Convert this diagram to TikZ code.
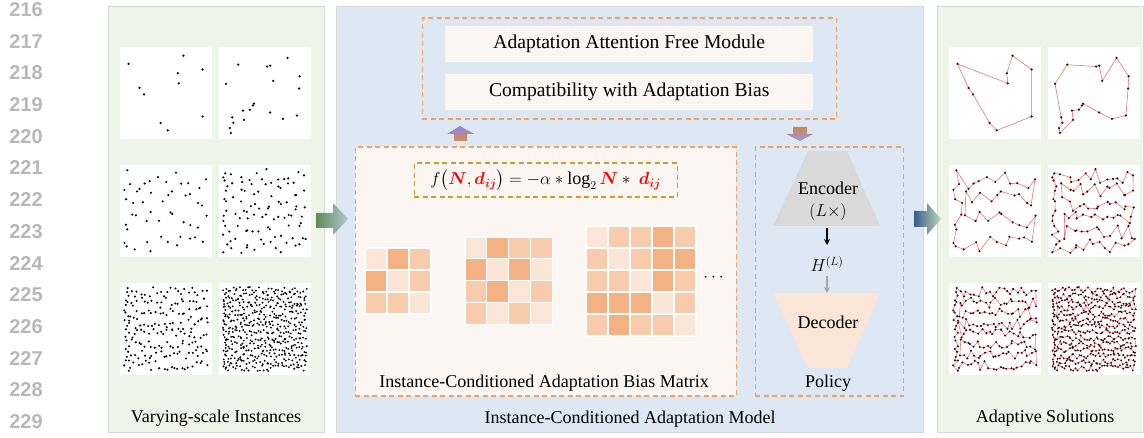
\documentclass[tikz,border=0pt]{standalone}
\usepackage{amsmath,bm}
\usepackage{fontspec}
\setmainfont{Liberation Serif}
\newfontfamily\numfont{Liberation Sans}
\usetikzlibrary{arrows.meta}
\definecolor{pgreen}{HTML}{EEF4E8}
\definecolor{pblue}{HTML}{DDE8F4}
\definecolor{pborder}{HTML}{D4D8D4}
\definecolor{cream}{HTML}{FBF6F2}
\definecolor{dashor}{HTML}{F4A060}
\definecolor{gold}{HTML}{CC9A2E}
\definecolor{cL}{HTML}{FBE5D6}
\definecolor{cM}{HTML}{F8CBAD}
\definecolor{cD}{HTML}{F4B183}
\definecolor{encgray}{HTML}{D9D9D9}
\definecolor{decpeach}{HTML}{FBE5D6}
\definecolor{numgray}{HTML}{B8B8B8}
\definecolor{tourred}{HTML}{F06868}
\definecolor{dotdark}{HTML}{3A0A0A}
\tikzset{
  panel/.style={draw=pborder, line width=1.2pt, inner sep=0pt, anchor=north west},
  dashbox/.style={draw=dashor, dash pattern=on 5pt off 3.5pt, line width=1.5pt, inner sep=0pt, anchor=north west},
  creambox/.style={fill=cream, inner sep=0pt, anchor=north west, font=\fontsize{19.6}{21}\selectfont},
  lbl/.style={font=\fontsize{18}{20}\selectfont, inner sep=1pt},
  tour/.style={draw=tourred, line width=0.55pt, line join=round},
  cellbox/.style={draw=white, line width=1.3pt},
  whitebox/.style={fill=white, inner sep=0pt, anchor=north west, minimum width=92pt, minimum height=92pt},
  numlbl/.style={font=\numfont\bfseries\fontsize{20}{22}\selectfont, text=numgray},
}
\newcommand\setdotcol[1]{\ifnum#1=1 \colorlet{dotc}{dotdark}\else\colorlet{dotc}{black}\fi}
% hand-coded instance: #1 x0, #2 y0, #3 list macro, #4 n, #5 draw tour (1/0), #6 prefix
\newcommand\handinst[6]{%
  \foreach \u/\v [count=\k] in #3 {\coordinate (#6\k) at ({#1+4+\u*84},{#2+4+\v*84});}
  \ifnum#5=1 \draw[tour] (#61) \foreach \j in {2,...,#4} {-- (#6\j)} -- cycle; \fi
  \setdotcol{#5}%
  \foreach \j in {1,...,#4} {\fill[dotc] (#6\j) circle (1.25pt);}
}
% random instance with a closed snake tour:
% #1 x0, #2 y0, #3 strips (even), #4 per strip, #5 return points, #6 seed, #7 tour flag, #8 radius, #9 prefix
\newcommand\randinst[9]{%
  \pgfmathsetseed{#6}%
  \pgfmathtruncatemacro\kk{#3-1}%
  \pgfmathsetmacro\cc{1.4/(#4+1)}%
  \foreach \s in {0,...,\kk}{%
    \foreach \i in {1,...,#4}{%
      \pgfmathsetmacro\rr{rnd}%
      \pgfmathsetmacro\rs{rnd}%
      \pgfmathsetmacro\ux{\cc+(1-\cc)*(mod(\s,2)==0 ? (\i-1+\rr)/#4 : (#4-\i+\rr)/#4)}%
      \pgfmathsetmacro\vy{(\s+\rs)/#3}%
      \pgfmathtruncatemacro\idx{\s*#4+\i}%
      \coordinate (#9\idx) at ({#1+4+\ux*84},{#2+4+\vy*84});
    }}%
  \foreach \i in {1,...,#5}{%
      \pgfmathsetmacro\rr{rnd}%
      \pgfmathsetmacro\rs{rnd}%
      \pgfmathsetmacro\ux{\cc*\rr}%
      \pgfmathsetmacro\vy{(#5-\i+\rs)/#5}%
      \pgfmathtruncatemacro\idx{#3*#4+\i}%
      \coordinate (#9\idx) at ({#1+4+\ux*84},{#2+4+\vy*84});
  }%
  \pgfmathtruncatemacro\NN{#3*#4+#5}%
  \ifnum#7=1 \draw[tour] (#91) \foreach \j in {2,...,\NN} {-- (#9\j)} -- cycle; \fi
  \setdotcol{#7}%
  \foreach \j in {1,...,\NN} {\fill[dotc] (#9\j) circle (#8);}
}
\newcommand\cells[4]{% #1 x0, #2 y0, #3 cell size, #4 rows
  \foreach \row [count=\r from 0] in {#4} {
    \foreach \c [count=\q from 0] in \row {
      \filldraw[cellbox, fill=c\c] ({#1+\q*#3},{#2+\r*#3}) rectangle ++(#3,#3);
    }
  }
}
\def\instA{0.054/0.154,0.652/0.385,0.641/0.264,0.707/0.055,0.935/0.220,0.935/0.780,0.522/0.945,0.435/0.857,0.239/0.516,0.185/0.440}
\def\instB{0.181/0.163,0.525/0.185,0.562/0.174,0.598/0.355,0.768/0.083,0.913/0.301,0.906/0.446,0.880/0.768,0.714/0.808,0.562/0.732,0.370/0.627,0.355/0.649,0.319/0.699,0.239/0.710,0.250/0.819,0.094/0.975,0.083/0.917,0.123/0.855,0.109/0.790,0.036/0.391}
\begin{document}
\begin{tikzpicture}[x=1pt,y=-1pt]
\useasboundingbox (0,0) rectangle (1144,438);
\fill[white] (0,0) rectangle (1144,438);
% line numbers
\foreach \n [count=\c from 0] in {216,...,229}
  \node[numlbl] (ln\n) at (26,{9.5+31.7*\c}) {\n};
% panels
\node[panel, fill=pgreen, minimum width=216pt, minimum height=426pt] (leftp) at (108,6) {};
\node[panel, fill=pblue, minimum width=587pt, minimum height=426pt] (midp) at (336,6) {};
\node[panel, fill=pgreen, minimum width=206pt, minimum height=426pt] (rightp) at (937,6) {};
% instance boxes
\foreach \cx/\cy [count=\b] in {120/47,219/47,120/165,219/165,120/283,219/283}
  \node[whitebox] (ib\b) at (\cx,\cy) {};
\foreach \cx/\cy [count=\b] in {949/47,1048/47,949/165,1048/165,949/283,1048/283}
  \node[whitebox] (sb\b) at (\cx,\cy) {};
\handinst{120}{47}{\instA}{10}{0}{ia}
\handinst{219}{47}{\instB}{20}{0}{ib}
\randinst{120}{165}{4}{10}{10}{11}{0}{1.2pt}{ic}
\randinst{219}{165}{6}{14}{16}{23}{0}{1.2pt}{id}
\randinst{120}{283}{8}{22}{24}{37}{0}{1.15pt}{ie}
\randinst{219}{283}{14}{33}{38}{53}{0}{1.05pt}{ig}
\handinst{949}{47}{\instA}{10}{1}{sa}
\handinst{1048}{47}{\instB}{20}{1}{sbp}
\randinst{949}{165}{4}{10}{10}{11}{1}{1.2pt}{sc}
\randinst{1048}{165}{6}{14}{16}{23}{1}{1.2pt}{sd}
\randinst{949}{283}{8}{22}{24}{37}{1}{1.15pt}{se}
\randinst{1048}{283}{14}{33}{38}{53}{1}{1.05pt}{sg}
\node[lbl] (lefttitle) at (216,418) {Varying-scale Instances};
\node[lbl] (righttitle) at (1045,418) {Adaptive Solutions};
% top module box
\node[dashbox, minimum width=414pt, minimum height=101pt] (topbox) at (421.5,17.5) {};
\node[creambox, minimum width=368pt, minimum height=36pt] (aafm) at (445,26) {Adaptation Attention Free Module};
\node[creambox, minimum width=368pt, minimum height=36pt] (compat) at (445,74) {Compatibility with Adaptation Bias};
% bias matrix box
\node[dashbox, fill=cream, minimum width=381pt, minimum height=249pt] (biasbox) at (354.5,146.5) {};
\node[dashbox, draw=gold, minimum width=263pt, minimum height=34pt] (fbox) at (413.5,162.5) {};
\node[font=\fontsize{18}{20}\selectfont] (formula) at (fbox.center)
  {$f\big(\textcolor{red}{\bm{N}},\textcolor{red}{\bm{d_{ij}}}\big)=-\alpha\ast\log_2\textcolor{red}{\bm{N}}\ast\ \textcolor{red}{\bm{d_{ij}}}$};
\cells{365}{248}{22}{{L,D,M},{D,L,M},{M,M,L}}
\cells{465}{237}{21.8}{{L,D,M,M},{D,L,D,L},{M,D,L,M},{M,L,M,L}}
\cells{586}{226}{22}{{L,M,M,D,M},{M,L,M,D,D},{M,M,L,D,M},{D,D,D,L,M},{M,D,M,M,L}}
\node[font=\fontsize{18}{20}\selectfont] (dots) at (715,278) {$\cdots$};
\node[lbl] (biastitle) at (544,383) {Instance-Conditioned Adaptation Bias Matrix};
\node[lbl] (midtitle) at (630,419) {Instance-Conditioned Adaptation Model};
% policy
\node[dashbox, minimum width=148pt, minimum height=249pt] (polbox) at (754.5,146.5) {};
\fill[encgray] (808,151) -- (847,151) -- (880,226) -- (773,226) -- cycle;
\fill[decpeach] (773,293) -- (880,293) -- (847,368) -- (808,368) -- cycle;
\node[lbl, align=center] (enc) at (828,201) {Encoder\\[2pt]$(L\times)$};
\coordinate (encb) at (827,228);
\node[lbl] (H) at (827,264) {$H^{(L)}$};
\coordinate (dect) at (827,293);
\draw[line width=1.1pt, -{Stealth[length=6pt,width=6pt]}] (encb) -- (827,245);
\draw[line width=1.1pt, draw=gray!70, -{Stealth[length=6pt,width=6pt]}] (827,276) -- (dect);
\node[lbl] (dec) at (828,322) {Decoder};
\node[lbl] (pol) at (828,383) {Policy};
% block arrows
\shade[left color={rgb,255:red,95;green,140;blue,85}, right color={rgb,255:red,175;green,198;blue,210}]
  (316,213) -- (333,213) -- (333,203) -- (348,219) -- (333,235) -- (333,228) -- (316,228) -- cycle;
\shade[left color={rgb,255:red,60;green,92;blue,142}, right color={rgb,255:red,188;green,216;blue,184}]
  (914,211) -- (927,211) -- (927,203) -- (941,219) -- (927,235) -- (927,227) -- (914,227) -- cycle;
\shade[top color={rgb,255:red,135;green,135;blue,235}, bottom color={rgb,255:red,215;green,140;blue,75}]
  (454,141) -- (454,134) -- (447,134) -- (460,126) -- (474,134) -- (467,134) -- (467,141) -- cycle;
\shade[top color={rgb,255:red,205;green,135;blue,75}, bottom color={rgb,255:red,150;green,150;blue,240}]
  (793,127) -- (807,127) -- (807,134) -- (813,134) -- (800,141) -- (786,134) -- (793,134) -- cycle;
\end{tikzpicture}
\end{document}
